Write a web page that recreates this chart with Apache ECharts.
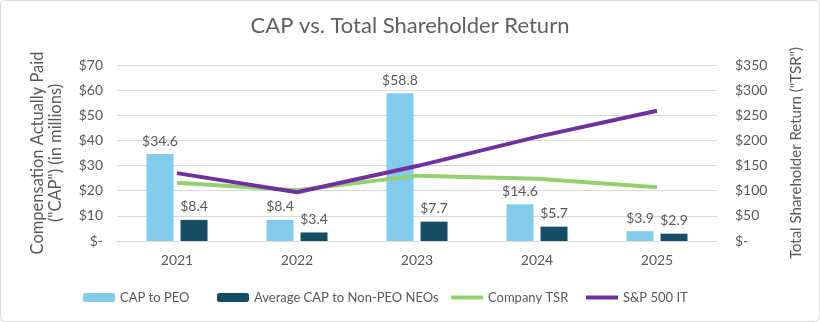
<!DOCTYPE html>
<html>
<head>
<meta charset="utf-8">
<script src="https://cdn.jsdelivr.net/npm/echarts@6/dist/echarts.min.js"></script>
<style>
html,body{margin:0;padding:0;background:#fff;}
#chart{width:820px;height:322px;}
</style>
</head>
<body>
<div id="chart"></div>
<script>
const categories = ['2021', '2022', '2023', '2024', '2025'];
const capToPeo = [34.6, 8.4, 58.8, 14.6, 3.9];
const avgCapNonPeo = [8.4, 3.4, 7.7, 5.7, 2.9];
const companyTsr = [116, 101, 130, 124, 107];
const sp500It = [135, 97, 149, 207, 259];
const seriesNames = ['CAP to PEO', 'Average CAP to Non-PEO NEOs', 'Company TSR', 'S&P 500 IT'];

const FONT = 'Lato';
const GRAY = '#595959';
const money = v => v === 0 ? '$-' : '$' + v;

const chart = echarts.init(document.getElementById('chart'), null, {renderer: 'canvas'});
const barLabel = {
  show: true, position: 'top', distance: 6, color: GRAY, fontSize: 14, fontFamily: FONT,
  formatter: p => '$' + p.value.toFixed(1)
};
const legendBase = {top: 286, itemGap: 4, textStyle: {color: GRAY, fontSize: 13, fontFamily: FONT}, selectedMode: false};
chart.setOption({
  animation: false,
  textStyle: {fontFamily: FONT},
  title: {
    text: 'CAP vs. Total Shareholder Return', left: 'center', top: 10,
    textStyle: {color: '#5f5f5f', fontSize: 22, fontWeight: 'normal', fontFamily: FONT}
  },
  graphic: [{
    type: 'rect', shape: {x: 0.5, y: 0.5, width: 819, height: 321, r: 4},
    style: {fill: 'none', stroke: '#d9d9d9', lineWidth: 1}, silent: true
  }],
  grid: {left: 117, right: 103, top: 65, bottom: 81, containLabel: false},
  legend: [
    Object.assign({}, legendBase, {left: 78, data: [seriesNames[0]], itemWidth: 32, itemHeight: 9}),
    Object.assign({}, legendBase, {left: 212, data: [seriesNames[1]], itemWidth: 32, itemHeight: 9}),
    Object.assign({}, legendBase, {left: 446, data: [{name: seriesNames[2], icon: 'rect'}], itemWidth: 32, itemHeight: 4}),
    Object.assign({}, legendBase, {left: 581, data: [{name: seriesNames[3], icon: 'rect'}], itemWidth: 32, itemHeight: 4})
  ],
  xAxis: {
    type: 'category', data: categories,
    axisLine: {lineStyle: {color: '#d9d9d9', width: 1}},
    axisTick: {show: false},
    axisLabel: {color: GRAY, fontSize: 14, fontFamily: FONT, margin: 12}
  },
  yAxis: [{
    type: 'value', min: 0, max: 70, interval: 10,
    name: 'Compensation Actually Paid\n("CAP") (in millions)',
    nameLocation: 'middle', nameRotate: 90, nameGap: 52,
    nameTextStyle: {color: GRAY, fontSize: 16.5, fontFamily: FONT, lineHeight: 18, align: 'center'},
    axisLine: {show: false}, axisTick: {show: false},
    axisLabel: {color: GRAY, fontSize: 14, fontFamily: FONT, margin: 14, formatter: money},
    splitLine: {lineStyle: {color: '#d9d9d9', width: 1}}
  }, {
    type: 'value', min: 0, max: 350, interval: 50,
    name: 'Total Shareholder Return ("TSR")',
    nameLocation: 'middle', nameRotate: 90, nameGap: 72,
    nameTextStyle: {color: GRAY, fontSize: 15, fontFamily: FONT},
    axisLine: {show: false}, axisTick: {show: false},
    axisLabel: {color: GRAY, fontSize: 14, fontFamily: FONT, margin: 18, formatter: money},
    splitLine: {show: false}
  }],
  series: [{
    name: seriesNames[0], type: 'bar', data: capToPeo, barWidth: 27, barGap: '26%',
    itemStyle: {color: '#83CBEB'}, label: barLabel
  }, {
    name: seriesNames[1], type: 'bar', data: avgCapNonPeo, barWidth: 27,
    itemStyle: {color: '#164D66'}, label: barLabel
  }, {
    name: seriesNames[2], type: 'line', yAxisIndex: 1, data: companyTsr,
    symbol: 'none', lineStyle: {color: '#95D070', width: 4}, itemStyle: {color: '#95D070'}
  }, {
    name: seriesNames[3], type: 'line', yAxisIndex: 1, data: sp500It,
    symbol: 'none', lineStyle: {color: '#7030A0', width: 4}, itemStyle: {color: '#7030A0'}
  }]
});
</script>
</body>
</html>
